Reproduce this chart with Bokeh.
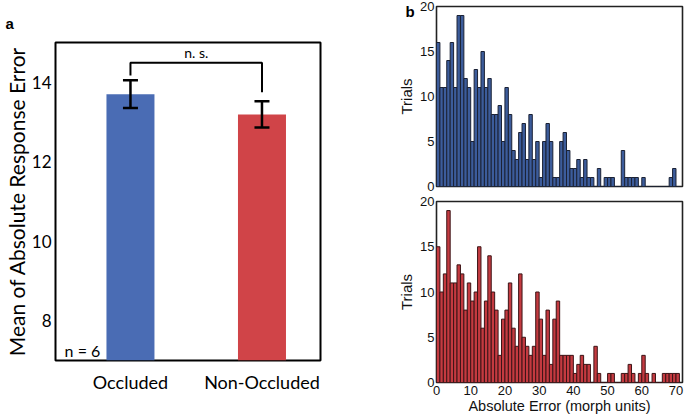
import numpy as np
from bokeh.plotting import figure
from bokeh.layouts import row, column
from bokeh.models import Range1d, FixedTicker, ColumnDataSource, Whisker, TeeHead, Title
from bokeh.core.properties import value
from bokeh.embed import file_html
from bokeh.resources import INLINE

# ---------------- data ----------------
categories = ["Occluded", "Non-Occluded"]
mean_error = [13.70, 13.19]
sem_error = [0.35, 0.33]
bar_colors = ["#4a6cb4", "#d04448"]
n_subjects = 6
a_yticks = [8, 10, 12, 14]

bin_width = 1
occluded_counts = [16, 11, 11, 14, 16, 11, 19, 19, 12, 11,
                   5, 13, 11, 15, 11, 12, 8, 8, 9, 5,
                   11, 8, 4, 3, 6, 7, 3, 8, 3, 5,
                   1, 5, 7, 5, 1, 1, 5, 6, 4, 2,
                   2, 3, 1, 3, 1, 1, 0, 2, 0, 1,
                   1, 1, 0, 0, 4, 1, 1, 1, 1, 0,
                   1, 0, 0, 0, 0, 0, 0, 0, 1, 2,
                   0]
nonoccluded_counts = [15, 10, 12, 19, 11, 11, 13, 12, 8, 11,
                      9, 10, 15, 6, 9, 14, 10, 8, 3, 7,
                      8, 11, 6, 4, 12, 5, 4, 3, 4, 10,
                      7, 3, 8, 2, 7, 9, 3, 3, 3, 3,
                      1, 2, 3, 2, 2, 0, 4, 1, 0, 0,
                      1, 1, 0, 0, 1, 1, 2, 1, 0, 1,
                      3, 1, 0, 1, 0, 0, 1, 1, 1, 1,
                      1]
hist_yticks = [0, 5, 10, 15, 20]
hist_xticks = [0, 10, 20, 30, 40, 50, 60, 70]

FONT_A = "Lato"
FONT_B = "Liberation Sans"


def panel_title(text, offset, standoff):
    try:
        return Title(text=text, align="left", offset=offset, standoff=standoff,
                     text_font=FONT_B, text_font_style="bold", text_font_size="15px",
                     text_color="black", vertical_align="bottom")
    except Exception:
        return Title(text=text, align="left", offset=offset, standoff=0,
                     text_font=FONT_B, text_font_style="bold", text_font_size="15px",
                     text_color="black", vertical_align="bottom")


# ---------------- panel a ----------------
xs = [i + 1 for i in range(len(categories))]
pa = figure(frame_width=265, frame_height=318,
            x_range=Range1d(0.43, 2.445), y_range=Range1d(7, 15),
            min_border_left=55, min_border_right=74, min_border_top=42, min_border_bottom=56,
            output_backend="svg", toolbar_location=None)
pa.xgrid.visible = False
pa.ygrid.visible = False
pa.outline_line_color = "black"
pa.outline_line_width = 2
for ax in pa.axis:
    ax.axis_line_color = None
    ax.major_tick_line_color = None
    ax.minor_tick_line_color = None
    ax.major_tick_out = 0
    ax.major_tick_in = 0
    ax.minor_tick_out = 0
    ax.major_label_text_font = FONT_A
    ax.major_label_text_color = "black"
pa.xaxis.major_label_text_font_size = "18px"
pa.yaxis.major_label_text_font_size = "17px"
pa.yaxis.ticker = FixedTicker(ticks=a_yticks)
pa.xaxis.ticker = FixedTicker(ticks=xs)
pa.xaxis.major_label_overrides = {x: c for x, c in zip(xs, categories)}
pa.xaxis.major_label_standoff = 10
pa.yaxis.major_label_standoff = 4
pa.yaxis.axis_label = "Mean of Absolute Response Error"
pa.yaxis.axis_label_text_font = FONT_A
pa.yaxis.axis_label_text_font_style = "normal"
pa.yaxis.axis_label_text_font_size = "21px"
pa.yaxis.axis_label_text_color = "black"
pa.yaxis.axis_label_standoff = 0

pa.vbar(x=xs, top=mean_error, bottom=7, width=0.365, fill_color=bar_colors, line_color=None)

upper = [m + e for m, e in zip(mean_error, sem_error)]
lower = [m - e for m, e in zip(mean_error, sem_error)]
src = ColumnDataSource(dict(base=xs, upper=upper, lower=lower))
wh = Whisker(source=src, base="base", upper="upper", lower="lower",
             line_width=2.5, line_color="black", level="overlay",
             upper_head=TeeHead(size=15, line_width=2.5, line_color="black"),
             lower_head=TeeHead(size=15, line_width=2.5, line_color="black"))
pa.add_layout(wh)

# significance bracket
pa.line(x=[xs[0], xs[0], xs[1], xs[1]], y=[14.17, 14.49, 14.49, 13.75],
        line_width=2, line_color="black")
pa.text(x=[(xs[0] + xs[1]) / 2], y=[14.75], text=["n. s."], text_font=value(FONT_A),
        text_font_size="14px", text_align="center", text_baseline="middle", text_color="black")
pa.text(x=[0.635], y=[7.25], text=["n = %d" % n_subjects], text_font=value(FONT_A),
        text_font_size="16px", text_align="center", text_baseline="middle", text_color="black")

# panel letter
pa.add_layout(panel_title("a", -50, 22), "above")


# ---------------- panel b ----------------
def hist_fig(counts, fill, edge, frame_h, top_b, bottom_b, show_x):
    left = [i * bin_width for i in range(len(counts))]
    right = [l + bin_width for l in left]
    p = figure(frame_width=246, frame_height=frame_h,
               x_range=Range1d(0, 71.9), y_range=Range1d(0, 20),
               min_border_left=42, min_border_right=2, min_border_top=top_b, min_border_bottom=bottom_b,
               output_backend="svg", toolbar_location=None)
    p.xgrid.visible = False
    p.ygrid.visible = False
    p.outline_line_color = "#222222"
    p.outline_line_width = 1.6
    p.quad(left=left, right=right, bottom=0, top=counts, fill_color=fill,
           line_color=edge, line_width=1)
    for ax in p.axis:
        ax.axis_line_color = None
        ax.major_tick_line_color = None
        ax.minor_tick_line_color = None
        ax.major_tick_out = 0
        ax.major_tick_in = 0
        ax.minor_tick_out = 0
        ax.major_label_text_font = FONT_B
        ax.major_label_text_font_size = "13px"
        ax.major_label_text_color = "#111111"
        ax.axis_label_text_font = FONT_B
        ax.axis_label_text_font_style = "normal"
        ax.axis_label_text_color = "#111111"
    p.yaxis.ticker = FixedTicker(ticks=hist_yticks)
    p.yaxis.major_label_standoff = 2
    p.yaxis.axis_label = "Trials"
    p.yaxis.axis_label_text_font_size = "15px"
    p.yaxis.axis_label_standoff = 2
    if show_x:
        p.xaxis.ticker = FixedTicker(ticks=hist_xticks)
        p.xaxis.major_label_standoff = 3
        p.xaxis.axis_label = "Absolute Error (morph units)"
        p.xaxis.axis_label_text_font_size = "14.5px"
        p.xaxis.axis_label_standoff = 0
    else:
        p.xaxis.visible = False
    return p


pb1 = hist_fig(occluded_counts, "#3c5c9b", "#1b2235", 180, 6, 7, False)
pb2 = hist_fig(nonoccluded_counts, "#c43a40", "#3c1416", 181, 8, 34, True)
pb1.add_layout(panel_title("b", -31, -26), "above")

layout = row(pa, column(pb1, pb2, spacing=0), spacing=0)
open("out.html", "w").write(file_html(layout, INLINE))
